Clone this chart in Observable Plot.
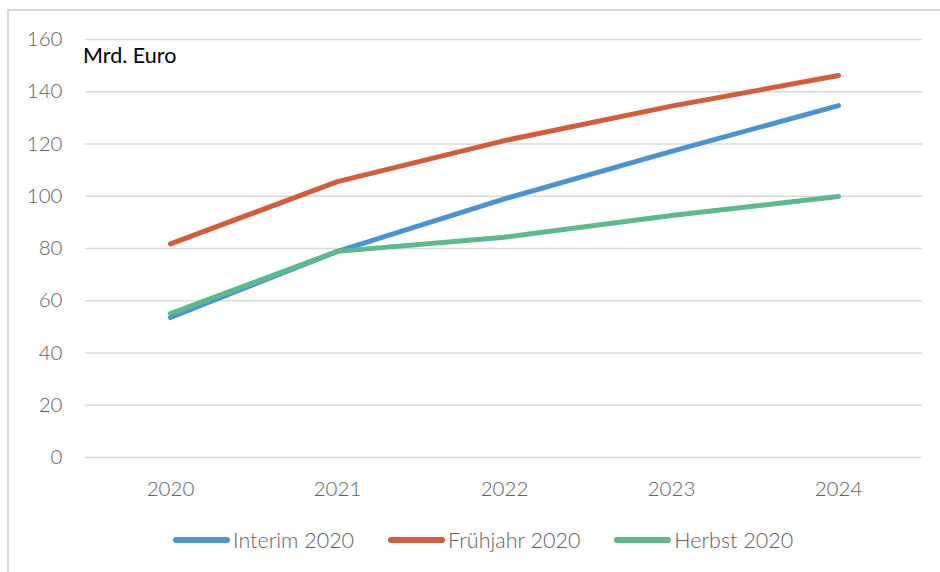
<!DOCTYPE html>
<html>
<head>
<meta charset="utf-8">
<script src="https://cdn.jsdelivr.net/npm/d3@7"></script>
<script src="https://cdn.jsdelivr.net/npm/@observablehq/plot@0.6"></script>
<style>
  html, body { margin: 0; padding: 0; background: #fff; }
  body { width: 940px; height: 572px; position: relative; overflow: hidden; font-family: Lato, "Open Sans", sans-serif; }
  #frame { position: absolute; left: 7px; top: 9px; width: 960px; height: 600px; border-left: 2px solid #d9d9d9; border-top: 2px solid #d9d9d9; }
  #chart { position: absolute; left: 0; top: 0; }
  #unit { position: absolute; left: 83px; top: 42px; font-size: 21.5px; color: #000; }
  #legend { position: absolute; left: 173px; top: 527px; display: flex; align-items: center; font-size: 21.5px; font-weight: 300; color: #626262; }
  .item { display: flex; align-items: center; margin-right: 34px; }
  .sw { width: 57px; height: 6px; border-radius: 3px; margin-right: 3px; }
</style>
</head>
<body>
<div id="frame"></div>
<div id="chart"></div>
<div id="unit">Mrd. Euro</div>
<div id="legend"></div>
<script>
const years = ["2020", "2021", "2022", "2023", "2024"];
const seriesNames = ["Interim 2020", "Frühjahr 2020", "Herbst 2020"];
const interim = [53.6, 78.9, 99.0, 117.2, 134.7];
const fruehjahr = [81.8, 105.6, 121.3, 134.5, 146.2];
const herbst = [55.1, 78.9, 84.3, 92.6, 99.9];
const colors = ["#4a94d6", "#d65c39", "#5cb88d"];
const yTicks = [0, 20, 40, 60, 80, 100, 120, 140, 160];

const valuesBySeries = [interim, fruehjahr, herbst];
const data = [];
seriesNames.forEach((s, i) => {
  years.forEach((y, j) => data.push({ series: s, year: y, value: valuesBySeries[i][j] }));
});

const plot = Plot.plot({
  width: 940,
  height: 510,
  marginTop: 39,
  marginLeft: 85,
  marginRight: 18,
  marginBottom: 53,
  style: { fontFamily: "Lato, 'Open Sans', sans-serif", fontSize: "20.5px", fontWeight: 300, color: "#626262", background: "transparent", overflow: "visible" },
  x: { type: "point", domain: years, padding: 0.5 },
  y: { domain: [0, 160] },
  color: { domain: seriesNames, range: colors },
  marks: [
    Plot.ruleY(yTicks, { stroke: "#d9d9d9", strokeWidth: 1.6 }),
    Plot.axisY({ ticks: yTicks, tickSize: 0, tickPadding: 23, label: null }),
    Plot.axisX({ tickSize: 0, tickPadding: 24, label: null }),
    Plot.line(data, { x: "year", y: "value", z: "series", stroke: "series", strokeWidth: 5, strokeLinecap: "round", strokeLinejoin: "round" })
  ]
});
document.getElementById("chart").appendChild(plot);

const legend = document.getElementById("legend");
seriesNames.forEach((s, i) => {
  const item = document.createElement("div");
  item.className = "item";
  const sw = document.createElement("div");
  sw.className = "sw";
  sw.style.background = colors[i];
  const t = document.createElement("span");
  t.textContent = s;
  item.appendChild(sw);
  item.appendChild(t);
  legend.appendChild(item);
});
</script>
</body>
</html>
